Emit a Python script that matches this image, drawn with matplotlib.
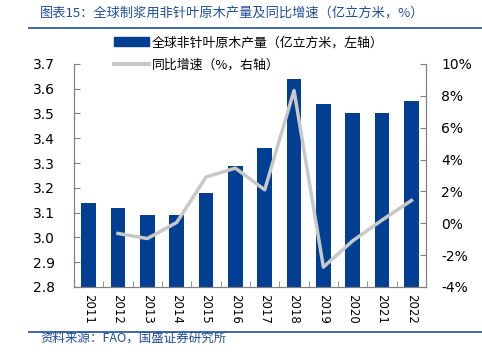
"""Global hardwood pulpwood output with YoY growth, bar + line on twin axes."""

import matplotlib
matplotlib.use("Agg")
import numpy as np
from matplotlib import pyplot as plt
from matplotlib.lines import Line2D
from matplotlib.patches import Patch

plt.rcParams["font.family"] = ["Noto Sans CJK SC", "DejaVu Sans"]

years = ["2011", "2012", "2013", "2014", "2015", "2016",
         "2017", "2018", "2019", "2020", "2021", "2022"]
output = [3.14, 3.12, 3.09, 3.09, 3.18, 3.29, 3.36, 3.64, 3.54, 3.50, 3.50, 3.55]
growth = [np.nan, -0.64, -0.96, 0.05, 2.9, 3.46, 2.1, 8.33, -2.75, -1.1, 0.2, 1.43]

title = "图表15：全球制浆用非针叶原木产量及同比增速（亿立方米，%）"
source = "资料来源：FAO，国盛证券研究所"
bar_label = "全球非针叶原木产量（亿立方米，左轴）"
line_label = "同比增速（%，右轴）"

BAR_COLOR = "#003F91"
LINE_COLOR = "#C8C8C8"
HEAD_COLOR = "#1F4E9A"
SPINE_COLOR = "#808080"

fig = plt.figure(figsize=(4.82, 3.61), dpi=100)
ax = fig.add_axes([0.1535, 0.205, 0.7305, 0.618])
ax2 = ax.twinx()

x = np.arange(len(years))
ax.bar(x, output, width=0.5, color=BAR_COLOR, zorder=2)
ax2.plot(x, growth, color=LINE_COLOR, linewidth=2.5, zorder=3)

ax.set_xlim(-0.5, len(years) - 0.5)
ax.set_ylim(2.8, 3.7)
ax.set_yticks(np.arange(2.8, 3.71, 0.1))
ax.set_yticklabels([f"{v:.1f}" for v in np.arange(2.8, 3.71, 0.1)], fontsize=10,
                   family="DejaVu Sans")
ax2.set_ylim(-4, 10)
ax2.set_yticks(np.arange(-4, 11, 2))
ax2.set_yticklabels([f"{v}%" for v in range(-4, 11, 2)], fontsize=10, family="DejaVu Sans")

ax.set_xticks(x)
ax.set_xticklabels(years, rotation=-90, fontsize=8.5, family="DejaVu Sans")
ax.set_xticks(np.arange(-0.5, len(years), 1), minor=True)
ax.tick_params(axis="x", which="major", length=0, pad=5)
ax.tick_params(axis="x", which="minor", length=4, direction="in", color=SPINE_COLOR)
ax.tick_params(axis="y", length=4, direction="in", color=SPINE_COLOR, pad=14)
ax2.tick_params(axis="y", length=4, direction="in", color=SPINE_COLOR, pad=11)

for axis in (ax, ax2):
    axis.spines["top"].set_visible(False)
    for side in ("left", "right", "bottom"):
        axis.spines[side].set_color(SPINE_COLOR)
        axis.spines[side].set_linewidth(0.8)

handles = [
    Patch(facecolor=BAR_COLOR, edgecolor=BAR_COLOR),
    Line2D([0], [0], color=LINE_COLOR, linewidth=3),
]
fig.legend(handles, [bar_label, line_label], loc="upper left",
           bbox_to_anchor=(0.236, 0.9), frameon=False, fontsize=9.3,
           handlelength=2.7, handletextpad=0.25, labelspacing=0.75,
           borderaxespad=0, borderpad=0)

fig.text(0.083, 0.96, title, fontsize=9.5, color=HEAD_COLOR, va="center", style="italic")
fig.add_artist(Line2D([0.06, 1.0], [0.923, 0.923], color=HEAD_COLOR, linewidth=1.2))
fig.add_artist(Line2D([0.06, 1.0], [0.080, 0.080], color=HEAD_COLOR, linewidth=1.2))
fig.text(0.083, 0.063, source, fontsize=9, color=HEAD_COLOR, va="center", style="italic")

fig.savefig("out.png", dpi=100)
